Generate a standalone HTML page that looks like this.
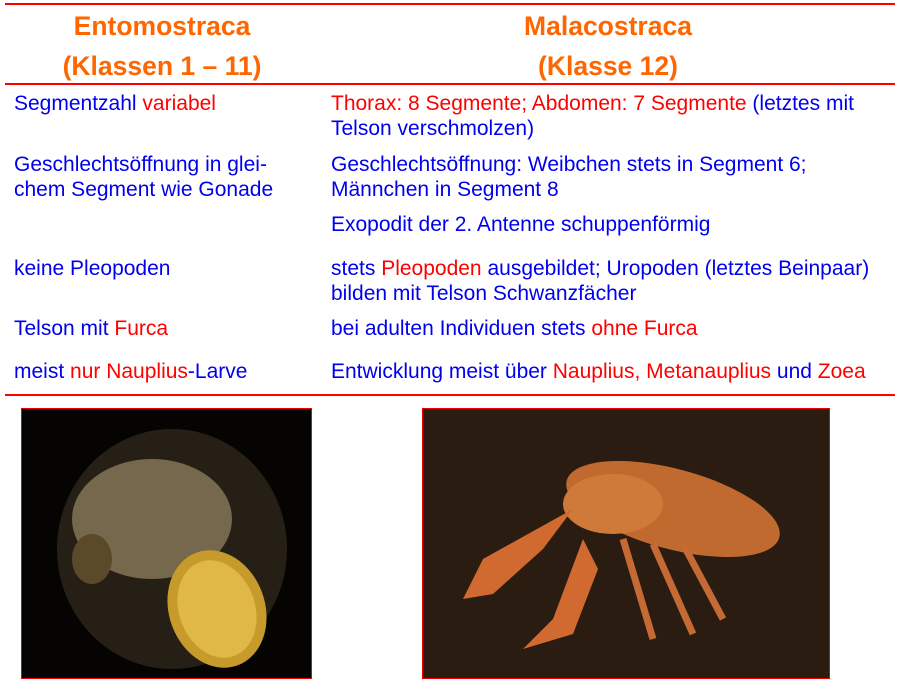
<!DOCTYPE html>
<html><head><meta charset="utf-8"><style>
body{margin:0;width:908px;height:691px;background:#fff;position:relative;overflow:hidden;font-family:"Liberation Sans",Arial,sans-serif}
.h{position:absolute;color:#ff6600;font-weight:bold;font-size:26.5px;text-align:center;line-height:40px}
.line{position:absolute;left:5px;width:890px;height:2px;background:#f00}
.t{position:absolute;color:#0000ee;font-size:21px;line-height:25px;white-space:nowrap}
.r{color:#f00}
.img{position:absolute;border:1px solid #e00;overflow:hidden}
</style></head><body>
<div class="line" style="top:3px"></div>
<div class="h" style="left:12px;width:300px;top:6px">Entomostraca<br>(Klassen 1 – 11)</div>
<div class="h" style="left:458px;width:300px;top:6px">Malacostraca<br>(Klasse 12)</div>
<div class="line" style="top:83px"></div>

<div class="t" style="left:14px;top:91px">Segmentzahl <span class="r">variabel</span></div>
<div class="t" style="left:331px;top:91px"><span class="r">Thorax: 8 Segmente; Abdomen: 7 Segmente</span> (letztes mit<br>Telson verschmolzen)</div>
<div class="t" style="left:14px;top:152px">Geschlechtsöffnung in glei-<br>chem Segment wie Gonade</div>
<div class="t" style="left:331px;top:152px">Geschlechtsöffnung: Weibchen stets in Segment 6;<br>Männchen in Segment 8</div>
<div class="t" style="left:331px;top:212px">Exopodit der 2. Antenne schuppenförmig</div>
<div class="t" style="left:14px;top:256px">keine Pleopoden</div>
<div class="t" style="left:331px;top:256px">stets <span class="r">Pleopoden</span> ausgebildet; Uropoden (letztes Beinpaar)<br>bilden mit Telson Schwanzfächer</div>
<div class="t" style="left:14px;top:316px">Telson mit <span class="r">Furca</span></div>
<div class="t" style="left:331px;top:316px">bei adulten Individuen stets <span class="r">ohne Furca</span></div>
<div class="t" style="left:14px;top:359px">meist <span class="r">nur Nauplius</span>-Larve</div>
<div class="t" style="left:331px;top:359px">Entwicklung meist über <span class="r">Nauplius, Metanauplius</span> und <span class="r">Zoea</span></div>
<div class="line" style="top:394px"></div>

<div class="img" style="left:21px;top:408px;width:289px;height:269px;background:#050403">
<svg width="289" height="269">
<ellipse cx="150" cy="140" rx="115" ry="120" fill="#3a3222" opacity=".6"/>
<ellipse cx="130" cy="110" rx="80" ry="60" fill="#b9a47a" opacity=".55"/>
<ellipse cx="195" cy="200" rx="48" ry="60" transform="rotate(-20 195 200)" fill="#c79a2c"/>
<ellipse cx="195" cy="200" rx="38" ry="50" transform="rotate(-20 195 200)" fill="#e0b848"/>
<ellipse cx="70" cy="150" rx="20" ry="25" fill="#5a4a2a"/>
</svg></div>
<div class="img" style="left:422px;top:408px;width:406px;height:269px;background:#1a120a">
<svg width="406" height="269">
<rect width="406" height="269" fill="#2a1c10"/>
<ellipse cx="250" cy="100" rx="110" ry="40" transform="rotate(15 250 100)" fill="#c06a30"/>
<ellipse cx="190" cy="95" rx="50" ry="30" fill="#d07a3a"/>
<path d="M150 100 L60 150 L40 190 L70 185 L120 140 Z" fill="#d06a30"/>
<path d="M160 130 L130 210 L100 240 L150 225 L175 160 Z" fill="#d06a30"/>
<path d="M200 130 L230 230 M230 135 L270 225 M260 135 L300 210" stroke="#c56a35" stroke-width="7"/>
</svg></div>
</body></html>
